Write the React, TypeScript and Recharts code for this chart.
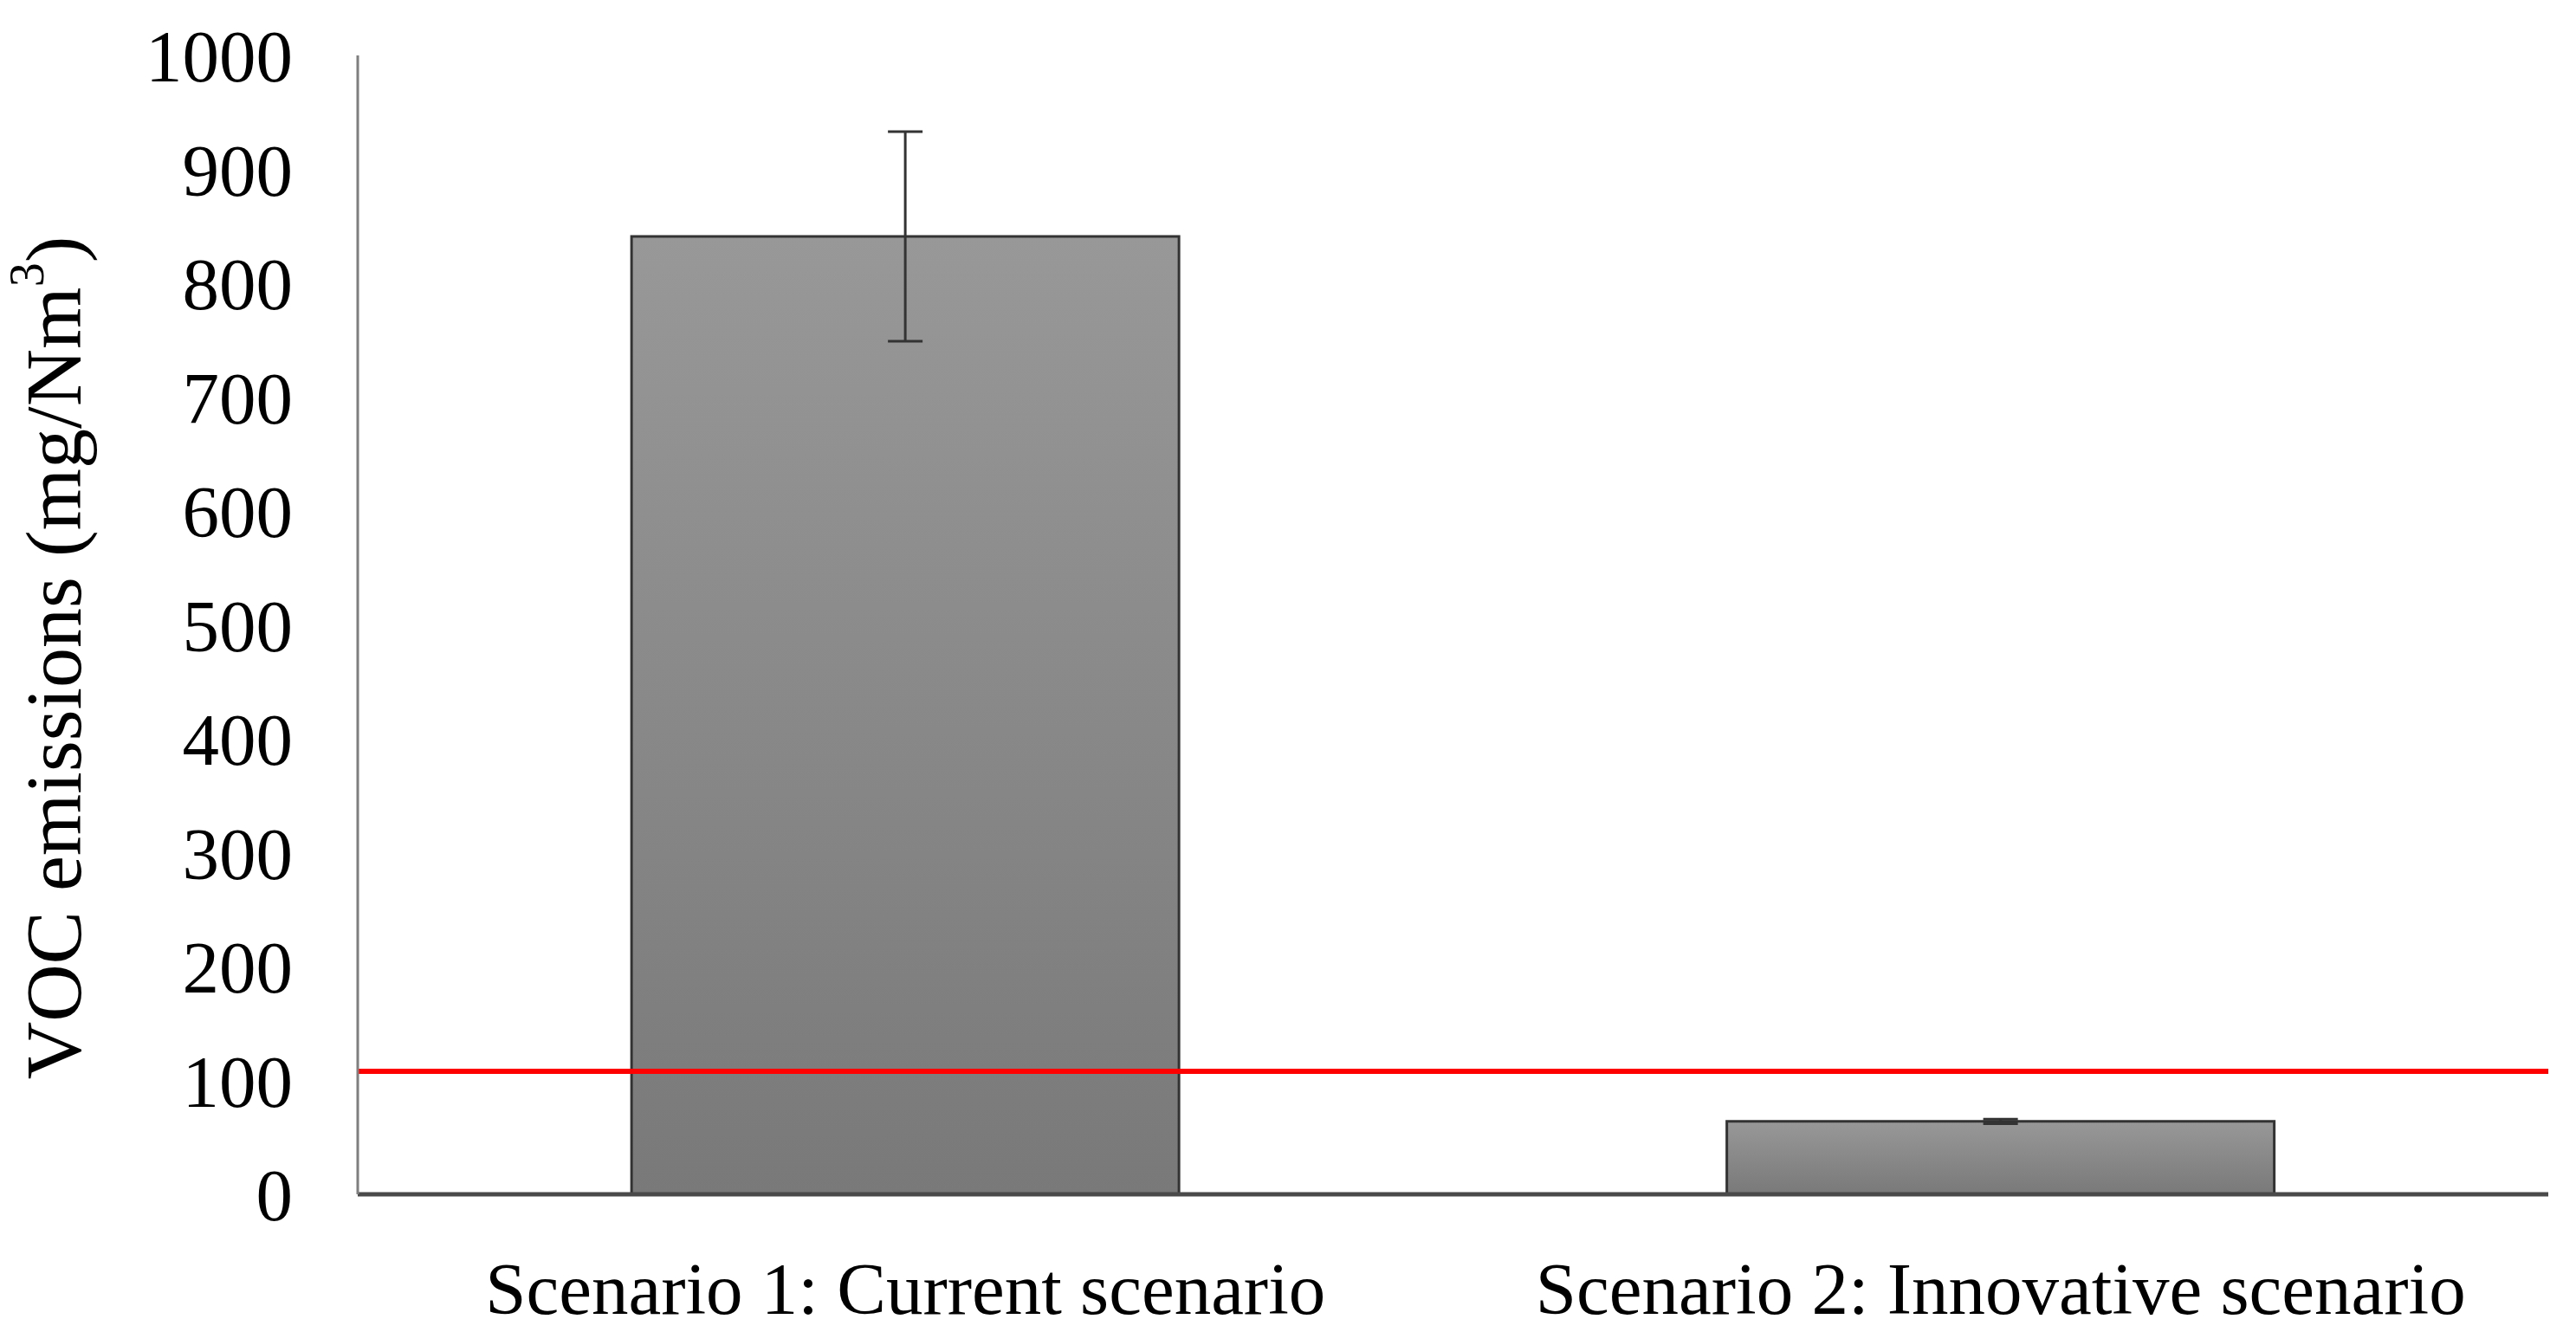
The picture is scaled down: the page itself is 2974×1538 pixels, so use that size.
import { Bar, BarChart, ErrorBar, ReferenceLine, XAxis, YAxis } from "recharts";

const scenarios = ["Scenario 1: Current scenario", "Scenario 2: Innovative scenario"];
const vocEmissions = [841, 64];
const vocErrors = [92, 2];
const emissionLimit = 108;
const yTicks = [0, 100, 200, 300, 400, 500, 600, 700, 800, 900, 1000];

const FONT = "'Liberation Serif', 'Times New Roman', serif";

const chartData = scenarios.map((name, i) => ({
  name,
  voc: vocEmissions[i],
  err: vocErrors[i],
}));

// rotated y title with a real superscript, placed left of the ticks
function AxisTitle({ viewBox }: any) {
  const cx = viewBox.x + 62;
  const cy = viewBox.y + viewBox.height / 2 + 38;
  return (
    <text
      x={cx}
      y={cy}
      transform={`rotate(-90, ${cx}, ${cy})`}
      textAnchor="middle"
      dominantBaseline="central"
      fontFamily={FONT}
      fontSize={92}
      fill="#000"
    >
      VOC emissions (mg/Nm
      <tspan baselineShift="super" fontSize={56}>
        3
      </tspan>
      )
    </text>
  );
}

export default function App() {
  return (
    <div style={{ position: "absolute", left: 0, top: 0, background: "#fff" }}>
      <BarChart
        width={2974}
        height={1538}
        data={chartData}
        margin={{ top: 64, right: 32, bottom: 0, left: 0 }}
        barCategoryGap="25%"
      >
        <defs>
          <linearGradient id="barFill" x1="0" y1="0" x2="0" y2="1">
            <stop offset="0%" stopColor="#989898" />
            <stop offset="100%" stopColor="#797979" />
          </linearGradient>
        </defs>
        <XAxis
          dataKey="name"
          axisLine={{ stroke: "#4a4a4a", strokeWidth: 5 }}
          tickLine={false}
          tickSize={0}
          tickMargin={78}
          height={159}
          tick={{ fontFamily: FONT, fontSize: 85, fill: "#000" }}
        />
        <YAxis
          domain={[0, 1000]}
          ticks={yTicks}
          interval={0}
          width={413}
          axisLine={{ stroke: "#7f7f7f", strokeWidth: 3 }}
          tickLine={false}
          tickSize={0}
          tickMargin={75}
          tick={{ fontFamily: FONT, fontSize: 85, fill: "#000" }}
          label={<AxisTitle />}
        />
        <Bar
          dataKey="voc"
          fill="url(#barFill)"
          stroke="#333"
          strokeWidth={3}
          isAnimationActive={false}
        >
          <ErrorBar dataKey="err" width={20} stroke="#333" strokeWidth={3} />
        </Bar>
        <ReferenceLine y={emissionLimit} stroke="#ff0000" strokeWidth={6} ifOverflow="extendDomain" />
      </BarChart>
    </div>
  );
}
